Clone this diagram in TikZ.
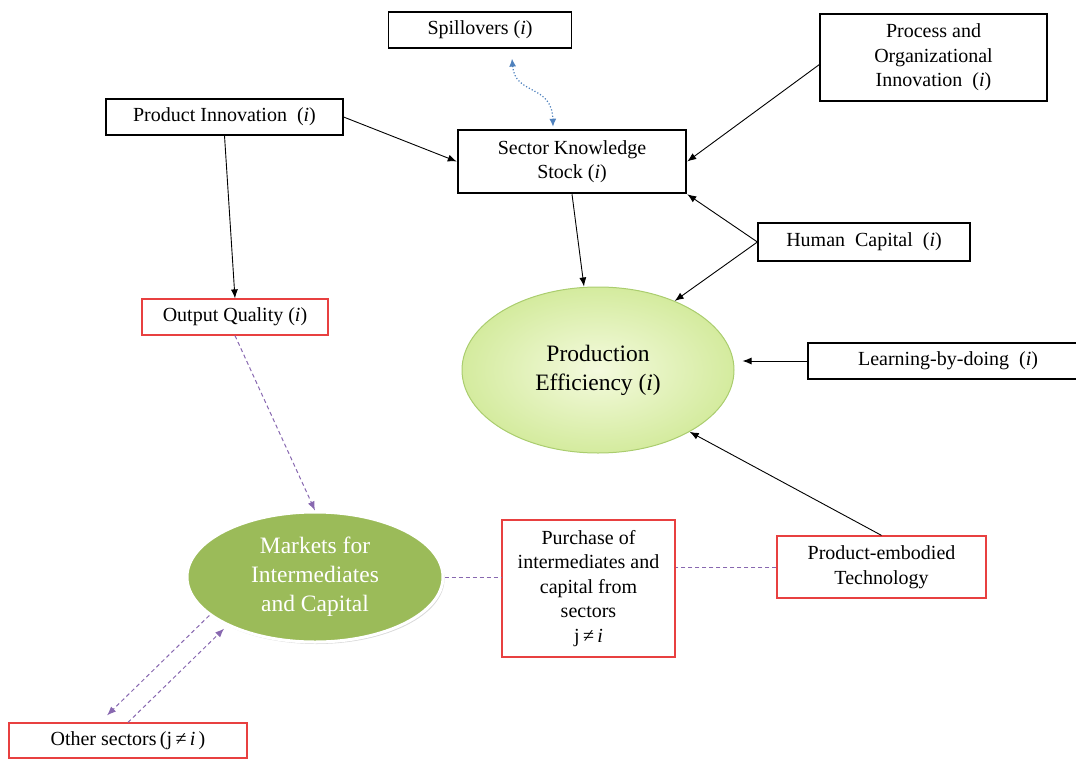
\documentclass[tikz,border=0pt]{standalone}
\usepackage{fontspec}
\setmainfont{Liberation Serif}
\usetikzlibrary{arrows.meta,shapes.geometric,shadows}

\definecolor{boxred}{RGB}{232,64,64}
\definecolor{linkpurple}{RGB}{136,104,176}
\definecolor{linkblue}{RGB}{79,129,189}
\definecolor{mktgreen}{RGB}{155,187,89}
\definecolor{effedge}{RGB}{170,205,110}
\definecolor{effin}{RGB}{244,250,222}
\definecolor{effout}{RGB}{212,235,158}

\begin{document}
\begin{tikzpicture}[
x=1pt,y=-1pt,
font=\fontsize{20}{24.5}\selectfont,
box/.style={rectangle,draw,line width=1.2pt,align=center,inner sep=2pt},
redbox/.style={box,draw=boxred},
big/.style={font=\fontsize{23.5}{29}\selectfont,align=center},
link/.style={-{Latex[length=9pt,width=7pt]},line width=0.9pt},
trade/.style={linkpurple,line width=1pt,dash pattern=on 4pt off 3pt},
tradetip/.style={trade,-{Latex[length=9pt,width=7pt]}}
]
\useasboundingbox (0,0) rectangle (1076,760);

\node[box,minimum width=183pt,minimum height=36pt] (spill) at (480,30) {Spillovers (\textit{i})};
\node[box,minimum width=227pt,minimum height=87pt] (proc) at (933.5,57.5) {Process and\\Organizational\\Innovation\ \ (\textit{i})};
\node[box,minimum width=237pt,minimum height=36pt] (pi) at (224.5,117) {Product Innovation\ \ (\textit{i})};
\node[box,line width=2.5pt,minimum width=228pt,minimum height=63pt] (sks) at (572,161.5) {Sector Knowledge\\Stock (\textit{i})};
\node[box,minimum width=212pt,minimum height=38pt] (hc) at (864,242) {Human\ \ Capital\ \ (\textit{i})};
\node[redbox,minimum width=186pt,minimum height=36pt] (oq) at (235,317) {Output Quality\ (\textit{i})};
\node[box,minimum width=280pt,minimum height=36pt] (lbd) at (948,361) {Learning-by-doing\ \ (\textit{i})};
\node[ellipse,draw=effedge,line width=1pt,inner color=effin,outer color=effout,
  minimum width=272pt,minimum height=166pt,big] (pe) at (598,370) {Production\\Efficiency (\textit{i})};
\node[ellipse,draw=white,line width=3pt,fill=mktgreen,text=white,
  drop shadow={shadow xshift=1.5pt,shadow yshift=-2pt,opacity=0.3},
  minimum width=256pt,minimum height=130pt,big] (mk) at (315,577) {Markets for\\Intermediates\\and Capital};
\node[redbox,minimum width=173pt,minimum height=137pt] (pur) at (588.5,588.5) {Purchase of\\intermediates and\\capital from\\sectors\\j\,≠\,\textit{i}};
\node[redbox,minimum width=209pt,minimum height=62pt] (pet) at (881.5,567) {Product-embodied\\Technology};
\node[redbox,minimum width=238pt,minimum height=35pt] (os) at (128,740.5) {Other sectors\,(j\,≠\,\textit{i}\,)};

% knowledge links
\draw[link] (pi.east) -- (sks.west);
\draw[link] ([yshift=-7pt]proc.west) -- (sks.east);
\draw[link] (pi.south) -- (oq.north);
\draw[link] (sks.south) -- ([xshift=-14pt]pe.north);
\draw[link] (hc.west) -- (sks.south east);
\draw[link] (hc.west) -- (pe.42);
\draw[link,shorten >=8pt] (lbd.west) -- (lbd.west -| pe.east);
\draw[link] (pet.north) -- (pe.-34);
\draw[linkblue,dotted,line width=1.2pt,{Latex[length=8pt,width=7pt]}-{Latex[length=8pt,width=7pt]}]
  ([xshift=32pt,yshift=-10pt]spill.south) .. controls +(3,37) and +(-1,-43) .. ([xshift=-19pt,yshift=2pt]sks.north);

% market links
\draw[tradetip] (oq.south) -- (mk.north);
\draw[trade] (mk.east) -- (mk.east -| pur.west);
\draw[trade] (pet.west) -- (pet.west -| pur.east);
\draw[tradetip] (mk.200) -- ([xshift=-21pt,yshift=7pt]os.north);
\draw[tradetip,shorten >=4pt] (os.north) -- (mk.209);

\end{tikzpicture}
\end{document}
